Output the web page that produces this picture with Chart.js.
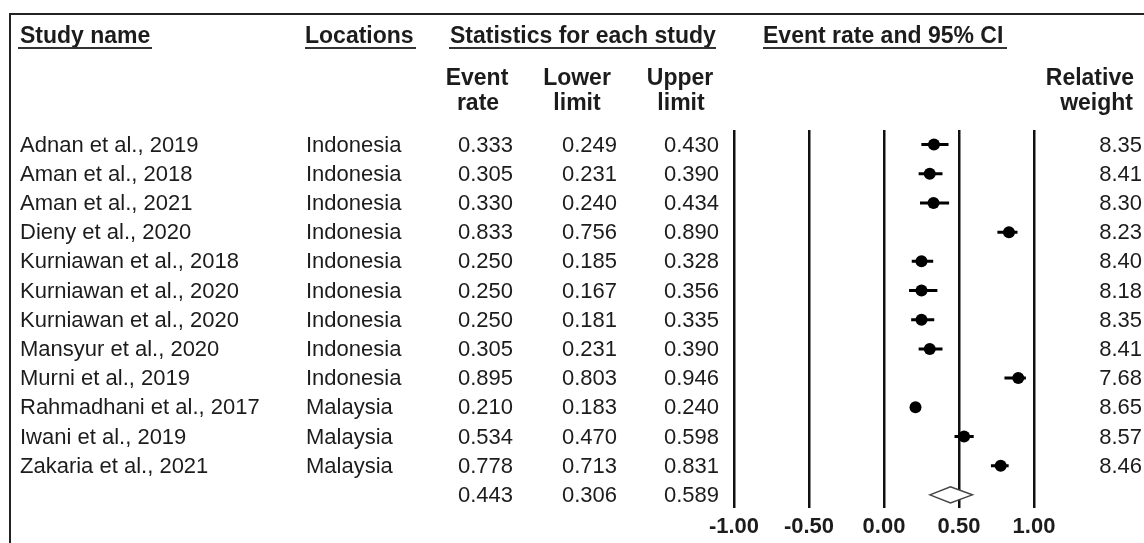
<!DOCTYPE html>
<html>
<head>
<meta charset="utf-8">
<title>Event rate forest plot</title>
<script src="https://cdn.jsdelivr.net/npm/chart.js@4/dist/chart.umd.min.js"></script>
<style>
  html, body { margin: 0; padding: 0; background: #fff; }
  #wrap { width: 1144px; height: 543px; }
</style>
</head>
<body>
<div id="wrap"><canvas id="forest" width="1144" height="543"></canvas></div>
<script>
// Per-study values
const studies = [
  'Adnan et al., 2019', 'Aman et al., 2018', 'Aman et al., 2021', 'Dieny et al., 2020',
  'Kurniawan et al., 2018', 'Kurniawan et al., 2020', 'Kurniawan et al., 2020',
  'Mansyur et al., 2020', 'Murni et al., 2019', 'Rahmadhani et al., 2017',
  'Iwani et al., 2019', 'Zakaria et al., 2021'
];
const locations = [
  'Indonesia', 'Indonesia', 'Indonesia', 'Indonesia', 'Indonesia', 'Indonesia',
  'Indonesia', 'Indonesia', 'Indonesia', 'Malaysia', 'Malaysia', 'Malaysia'
];
const eventRate  = [0.333, 0.305, 0.330, 0.833, 0.250, 0.250, 0.250, 0.305, 0.895, 0.210, 0.534, 0.778];
const lowerLimit = [0.249, 0.231, 0.240, 0.756, 0.185, 0.167, 0.181, 0.231, 0.803, 0.183, 0.470, 0.713];
const upperLimit = [0.430, 0.390, 0.434, 0.890, 0.328, 0.356, 0.335, 0.390, 0.946, 0.240, 0.598, 0.831];
const relWeight  = [8.35, 8.41, 8.30, 8.23, 8.40, 8.18, 8.35, 8.41, 7.68, 8.65, 8.57, 8.46];

// Pooled estimate
const pooledRate  = 0.443;
const pooledLower = 0.306;
const pooledUpper = 0.589;

// Axis ticks
const axisTicks = [-1.00, -0.50, 0.00, 0.50, 1.00];

const FONT = '"Liberation Sans", Arial, Helvetica, sans-serif';
const INK = '#1c1c1c';
const summaryRow = studies.length;

// Table columns, header, frame, whiskers and pooled diamond
const forestTable = {
  id: 'forestTable',
  beforeDatasetsDraw(chart) {
    const ctx = chart.ctx;
    const xs = chart.scales.x, ys = chart.scales.y;
    ctx.save();

    // frame
    ctx.strokeStyle = '#222';
    ctx.lineWidth = 2;
    ctx.beginPath();
    ctx.moveTo(1144, 14);
    ctx.lineTo(10, 14);
    ctx.lineTo(10, 543);
    ctx.stroke();

    // header
    ctx.fillStyle = INK;
    ctx.font = 'bold 23px ' + FONT;
    ctx.textBaseline = 'alphabetic';
    ctx.textAlign = 'left';
    ctx.fillText('Study name', 20, 43);
    ctx.fillText('Locations', 305, 43);
    ctx.fillText('Statistics for each study', 450, 43);
    ctx.fillText('Event rate and 95% CI', 763, 43);

    ctx.lineWidth = 2;
    ctx.strokeStyle = '#333';
    const under = [[18, 152], [305, 416], [449, 716], [763, 1007]];
    ctx.beginPath();
    under.forEach(([a, b]) => { ctx.moveTo(a, 48); ctx.lineTo(b, 48); });
    ctx.stroke();

    ctx.textAlign = 'center';
    ctx.fillText('Event', 477, 85);
    ctx.fillText('rate', 478, 110);
    ctx.fillText('Lower', 577, 85);
    ctx.fillText('limit', 577, 110);
    ctx.fillText('Upper', 680, 85);
    ctx.fillText('limit', 681, 110);
    ctx.textAlign = 'right';
    ctx.fillText('Relative', 1134, 85);
    ctx.fillText('weight', 1133, 110);

    // rows
    ctx.font = '22px ' + FONT;
    ctx.textBaseline = 'middle';
    studies.forEach((name, i) => {
      const y = ys.getPixelForValue(i) + 1;
      ctx.textAlign = 'left';
      ctx.fillText(name, 20, y);
      ctx.fillText(locations[i], 306, y);
      ctx.fillText(eventRate[i].toFixed(3), 458, y);
      ctx.fillText(lowerLimit[i].toFixed(3), 562, y);
      ctx.fillText(upperLimit[i].toFixed(3), 664, y);
      ctx.textAlign = 'right';
      ctx.fillText(relWeight[i].toFixed(2), 1142, y);
    });
    const ys0 = ys.getPixelForValue(summaryRow) + 1;
    ctx.textAlign = 'left';
    ctx.fillText(pooledRate.toFixed(3), 458, ys0);
    ctx.fillText(pooledLower.toFixed(3), 562, ys0);
    ctx.fillText(pooledUpper.toFixed(3), 664, ys0);

    // confidence interval whiskers
    ctx.strokeStyle = '#000';
    ctx.lineWidth = 3;
    ctx.beginPath();
    studies.forEach((_, i) => {
      const y = ys.getPixelForValue(i);
      ctx.moveTo(xs.getPixelForValue(lowerLimit[i]), y);
      ctx.lineTo(xs.getPixelForValue(upperLimit[i]), y);
    });
    ctx.stroke();

    // pooled diamond
    const yd = ys.getPixelForValue(summaryRow);
    ctx.fillStyle = '#fff';
    ctx.strokeStyle = '#444';
    ctx.lineWidth = 1.5;
    ctx.beginPath();
    ctx.moveTo(xs.getPixelForValue(pooledLower), yd);
    ctx.lineTo(xs.getPixelForValue(pooledRate), yd - 8);
    ctx.lineTo(xs.getPixelForValue(pooledUpper), yd);
    ctx.lineTo(xs.getPixelForValue(pooledRate), yd + 8);
    ctx.closePath();
    ctx.fill();
    ctx.stroke();

    ctx.restore();
  }
};

new Chart(document.getElementById('forest'), {
  type: 'scatter',
  data: {
    datasets: [{
      label: 'Event rate',
      data: eventRate.map((v, i) => ({ x: v, y: i })),
      backgroundColor: '#000',
      borderColor: '#000',
      pointRadius: 6,
      pointHoverRadius: 6,
      borderWidth: 0
    }]
  },
  options: {
    responsive: false,
    animation: false,
    events: [],
    layout: { padding: { left: 734, right: 110, top: 130, bottom: 0 } },
    plugins: { legend: { display: false }, tooltip: { enabled: false } },
    scales: {
      x: {
        type: 'linear',
        min: -1,
        max: 1,
        afterFit(scale) { scale.height = 35; },
        afterBuildTicks(scale) { scale.ticks = axisTicks.map(v => ({ value: v })); },
        border: { display: false },
        grid: { color: '#111', lineWidth: 2.5, drawTicks: false },
        ticks: {
          padding: 6,
          color: INK,
          font: { family: FONT, size: 22, weight: 'bold' },
          callback: v => v.toFixed(2),
          maxRotation: 0,
          autoSkip: false
        }
      },
      y: {
        type: 'linear',
        display: false,
        reverse: true,
        min: -0.5,
        max: summaryRow + 0.45
      }
    }
  },
  plugins: [forestTable]
});
</script>
</body>
</html>
